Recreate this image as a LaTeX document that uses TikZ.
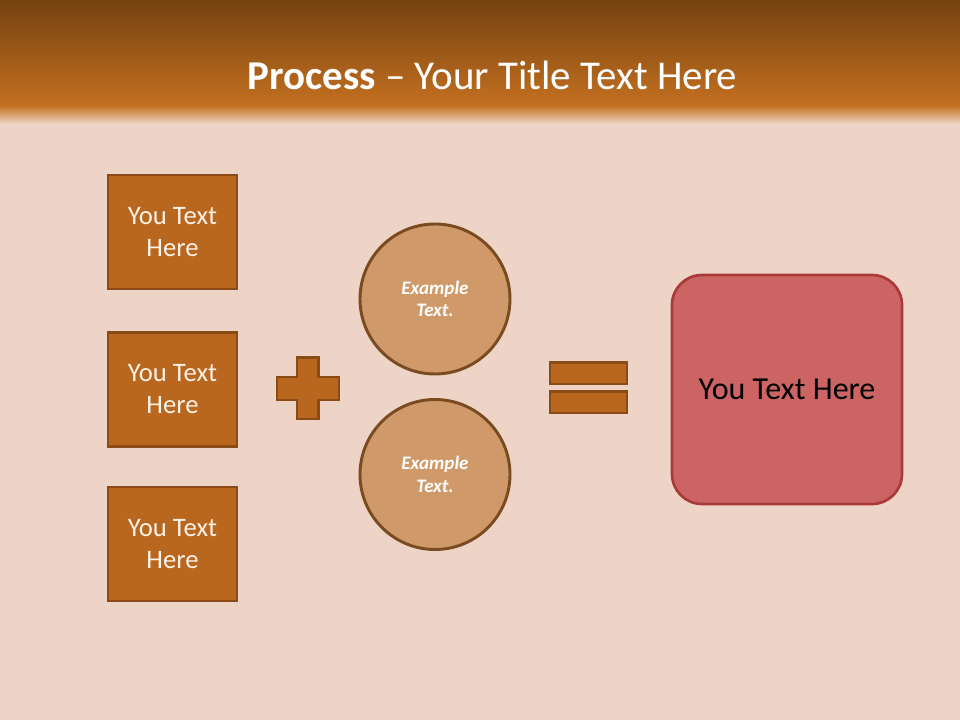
\documentclass[tikz,border=0pt]{standalone}
\usepackage{fontspec}
\setmainfont{Carlito}
\definecolor{bgc}{RGB}{237,212,198}
\definecolor{hdtop}{RGB}{116,66,16}
\definecolor{hdbot}{RGB}{196,112,32}
\definecolor{boxfill}{RGB}{185,102,31}
\definecolor{boxline}{RGB}{138,75,22}
\definecolor{circfill}{RGB}{207,153,105}
\definecolor{circline}{RGB}{122,75,32}
\definecolor{redfill}{RGB}{204,100,100}
\definecolor{redline}{RGB}{170,58,58}
\definecolor{boxtext}{RGB}{253,242,230}
\tikzset{
  x=0.75pt, y=-0.75pt,
  stepbox/.style={draw=boxline, line width=2.2pt, fill=boxfill, minimum width=129*0.75pt, minimum height=114*0.75pt, inner sep=0pt, text=boxtext, align=center, font=\fontsize{20pt}{24pt}\selectfont},
  examplecirc/.style={circle, draw=circline, line width=2.2pt, fill=circfill, minimum size=150*0.75pt, inner sep=0pt, text=white, align=center, font=\fontsize{14.3pt}{17pt}\selectfont\bfseries\itshape},
  signpart/.style={draw=boxline, line width=2pt, fill=boxfill},
  resultbox/.style={draw=redline, line width=2pt, fill=redfill, rounded corners=30*0.75pt, minimum width=230*0.75pt, minimum height=229*0.75pt, inner sep=0pt, text=black, font=\fontsize{24pt}{28pt}\selectfont}
}
\begin{document}
\begin{tikzpicture}
\useasboundingbox (0,0) rectangle (960,720);
\fill[bgc] (0,0) rectangle (960,720);
\shade[top color=hdtop, bottom color=hdbot] (0,0) rectangle (960,106);
\shade[top color=hdbot, bottom color=bgc] (0,105.5) rectangle (960,124);
\node[text=white, font=\fontsize{30.7pt}{36pt}\selectfont] (title) at (492.5,75) {\textbf{Process} -- Your Title Text Here};
\node[stepbox] (b1) at (172.5,232) {You Text\\Here};
\node[stepbox] (b2) at (172.5,389.5) {You Text\\Here};
\node[stepbox] (b3) at (172.5,544) {You Text\\Here};
% plus sign
\draw[signpart] (297,357.5) -- (318.5,357.5) -- (318.5,377) -- (339,377) -- (339,400) -- (318.5,400) -- (318.5,419) -- (297,419) -- (297,400) -- (277,400) -- (277,377) -- (297,377) -- cycle;
\node[examplecirc] (c1) at (435,299) {Example\\Text.};
\node[examplecirc] (c2) at (435,474.5) {Example\\Text.};
% equals sign
\draw[signpart] (550,362.5) rectangle (627,384);
\draw[signpart] (550,391.5) rectangle (627,413);
\node[resultbox] (r) at (787,389.5) {You Text Here};
\end{tikzpicture}
\end{document}
